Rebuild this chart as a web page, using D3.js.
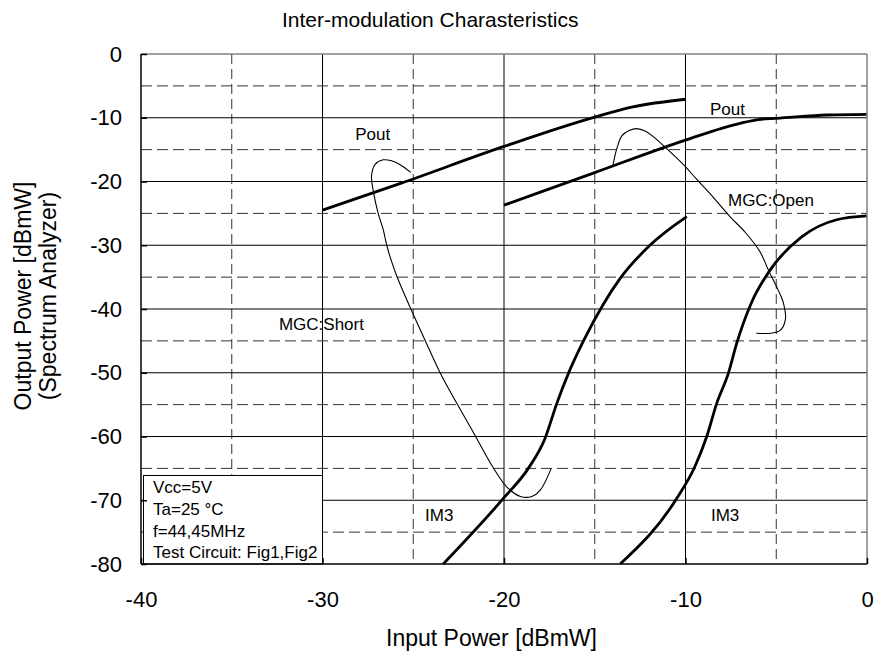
<!DOCTYPE html>
<html>
<head>
<meta charset="utf-8">
<script src="https://cdn.jsdelivr.net/npm/d3@7"></script>
<style>
  html, body { margin: 0; padding: 0; background: #fff; }
  svg { display: block; font-family: "Liberation Sans", Arial, sans-serif; }
</style>
</head>
<body>
<svg id="chart" width="874" height="653"></svg>
<script>
// ---- Data ----
const xTicks = [-40, -30, -20, -10, 0];
const yTicks = [0, -10, -20, -30, -40, -50, -60, -70, -80];
const xSolidGrid = [-30, -20, -10];
const xDashGrid = [-35, -25, -15, -5];
const ySolidGrid = [-10, -20, -30, -40, -50, -60, -70];
const yDashGrid = [-5, -15, -25, -35, -45, -55, -65, -75];

// Pout, MGC:Short (thick)
const poutShort = [[-30, -24.5], [-25.7, -20.3], [-20, -14.5], [-15, -9.9], [-12.9, -8.3], [-10, -7.1]];
// Pout, MGC:Open (thick)
const poutOpen = [[-20, -23.7], [-15, -18.6], [-10, -13.5], [-7, -10.87], [-5.9, -10.25], [-5, -10.1], [-2.2, -9.57], [0, -9.46]];
// IM3, MGC:Short (thick)
const im3Short = [[-23.35, -80], [-20, -69.6], [-18.66, -65.0], [-17.74, -60.3], [-17.09, -54.8], [-16.45, -50.1], [-15.6, -44.9], [-14.6, -39.6], [-13.6, -35.2], [-11.96, -30.0], [-9.93, -25.5]];
// IM3, MGC:Open (thick)
const im3Open = [[-13.6, -80], [-10.48, -69.7], [-9.48, -64.7], [-8.83, -60.0], [-8.28, -54.8], [-7.64, -50.1], [-7.18, -45.4], [-6.35, -38.9], [-5.34, -33.9], [-3.6, -28.7], [-1.67, -26.0], [0, -25.4]];
// thin bracket curves
const curveShort = [[-25.14, -18.56], [-25.7, -17.4], [-26.2, -16.75], [-26.65, -16.6], [-27.1, -17.3], [-27.3, -19.2], [-27.2, -21.5], [-26.95, -24.8], [-26.65, -27.6], [-26.46, -30.0], [-26.2, -32.5], [-25.9, -34.9], [-25.1, -40.2], [-24.3, -45.2], [-23.5, -50.1], [-22.6, -54.8], [-21.7, -59.3], [-20.7, -64.4], [-19.85, -67.9], [-19.1, -69.4], [-18.47, -69.4], [-18.0, -68.4], [-17.4, -65.0]];
const curveOpen = [[-14.0, -17.5], [-13.8, -15.0], [-13.5, -12.8], [-13.1, -12.0], [-12.7, -11.7], [-12.2, -12.1], [-11.76, -13.0], [-10.9, -15.2], [-10.1, -17.4], [-9.4, -19.6], [-8.65, -21.9], [-7.55, -25.5], [-6.7, -28.0], [-5.9, -31.0], [-5.4, -34.1], [-4.9, -37.0], [-4.6, -39.1], [-4.5, -41.7], [-4.8, -43.4], [-5.3, -43.8], [-6.1, -43.8]];

const labels = [
  { text: "Pout", x: -28.2, y: -13.5 },
  { text: "Pout", x: -8.65, y: -9.57 },
  { text: "MGC:Open", x: -7.66, y: -23.84 },
  { text: "MGC:Short", x: -32.4, y: -43.3 },
  { text: "IM3", x: -24.35, y: -73.3 },
  { text: "IM3", x: -8.6, y: -73.3 }
];
const infoLines = ["Vcc=5V", "Ta=25 °C", "f=44,45MHz", "Test Circuit: Fig1,Fig2"];

// ---- Layout ----
const svg = d3.select("#chart");
const L = 141, R = 867, T = 54, B = 564;
const x = d3.scaleLinear().domain([-40, 0]).range([L, R]);
const y = d3.scaleLinear().domain([-80, 0]).range([B, T]);

// title
svg.append("text").attr("x", 282).attr("y", 27).attr("font-size", 21).attr("fill", "#000")
  .text("Inter-modulation Charasteristics");

const g = svg.append("g");

// grid
g.selectAll(".vs").data(xSolidGrid).join("line")
  .attr("x1", d => x(d)).attr("x2", d => x(d)).attr("y1", T).attr("y2", B)
  .attr("stroke", "#000").attr("stroke-width", 1);
g.selectAll(".vd").data(xDashGrid).join("line")
  .attr("x1", d => x(d)).attr("x2", d => x(d)).attr("y1", T).attr("y2", B)
  .attr("stroke", "#333").attr("stroke-width", 1).attr("stroke-dasharray", "10,5");
g.selectAll(".hs").data(ySolidGrid).join("line")
  .attr("x1", L).attr("x2", R).attr("y1", d => y(d)).attr("y2", d => y(d))
  .attr("stroke", "#000").attr("stroke-width", 1);
g.selectAll(".hd").data(yDashGrid).join("line")
  .attr("x1", L).attr("x2", R).attr("y1", d => y(d)).attr("y2", d => y(d))
  .attr("stroke", "#333").attr("stroke-width", 1).attr("stroke-dasharray", "11,5");

// info box
const box = g.append("g");
box.append("rect").attr("x", 143.5).attr("y", 475.5).attr("width", 179).attr("height", 88.5)
  .attr("fill", "#fff").attr("stroke", "#000").attr("stroke-width", 1);
box.selectAll("text").data(infoLines).join("text")
  .attr("x", 153).attr("y", (d, i) => 493 + i * 21.8)
  .attr("font-size", 17).attr("fill", "#000").text(d => d);

// curves
const thick = d3.line().x(d => x(d[0])).y(d => y(d[1])).curve(d3.curveMonotoneX);
const thin = d3.line().x(d => x(d[0])).y(d => y(d[1])).curve(d3.curveCatmullRom.alpha(0.5));
[poutShort, poutOpen, im3Short, im3Open].forEach(s => {
  g.append("path").attr("d", thick(s)).attr("fill", "none").attr("stroke", "#000").attr("stroke-width", 2.8);
});
[curveShort, curveOpen].forEach(s => {
  g.append("path").attr("d", thin(s)).attr("fill", "none").attr("stroke", "#000").attr("stroke-width", 1.1);
});

// labels
g.selectAll(".lbl").data(labels).join("text")
  .attr("x", d => x(d.x)).attr("y", d => y(d.y))
  .attr("font-size", 17).attr("fill", "#000").text(d => d.text);

// border
g.append("line").attr("x1", L).attr("x2", R).attr("y1", T).attr("y2", T).attr("stroke", "#808080").attr("stroke-width", 1.5);
g.append("line").attr("x1", R).attr("x2", R).attr("y1", T).attr("y2", B).attr("stroke", "#808080").attr("stroke-width", 1.5);
g.append("line").attr("x1", L).attr("x2", L).attr("y1", T).attr("y2", B).attr("stroke", "#000").attr("stroke-width", 1.5);
g.append("line").attr("x1", L).attr("x2", R).attr("y1", B).attr("y2", B).attr("stroke", "#000").attr("stroke-width", 1.5);

// axes
const yAxis = svg.append("g").attr("transform", `translate(${L},0)`)
  .call(d3.axisLeft(y).tickValues(yTicks).tickSizeInner(-6).tickSizeOuter(0).tickPadding(19).tickFormat(d3.format("d")));
const xAxis = svg.append("g").attr("transform", `translate(0,${B})`)
  .call(d3.axisBottom(x).tickValues(xTicks).tickSizeInner(-6).tickSizeOuter(0).tickPadding(27).tickFormat(d3.format("d")));
[xAxis, yAxis].forEach(a => {
  a.select(".domain").remove();
  a.selectAll("text").attr("font-size", 22).attr("font-family", "Liberation Sans, Arial, sans-serif").attr("fill", "#000");
  a.selectAll(".tick line").attr("stroke", "#000").attr("stroke-width", 1.5);
});
// use hyphen-minus like the reference
svg.selectAll(".tick text").text(d => String(d));

// axis titles
svg.append("text").attr("x", 386).attr("y", 646).attr("font-size", 23).attr("fill", "#000")
  .text("Input Power [dBmW]");
const yt = svg.append("text").attr("transform", "translate(0,296) rotate(-90)")
  .attr("text-anchor", "middle").attr("font-size", 23).attr("fill", "#000");
yt.append("tspan").attr("x", 0).attr("y", 31).text("Output Power [dBmW]");
yt.append("tspan").attr("x", 0).attr("y", 56).text("(Spectrum Analyzer)");
</script>
</body>
</html>
